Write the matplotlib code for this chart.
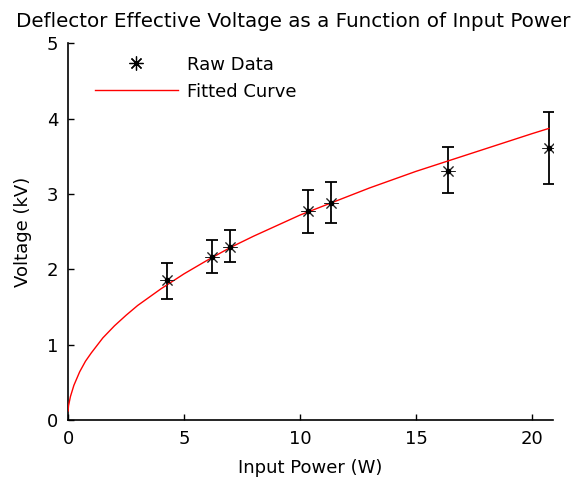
import matplotlib
matplotlib.use("Agg")
import matplotlib.pyplot as plt

# raw measurements (input power in W, voltage in kV, error bar ends)
power = [4.28, 6.19, 6.98, 10.36, 11.34, 16.37, 20.73]
voltage = [1.86, 2.17, 2.30, 2.77, 2.88, 3.31, 3.61]
err_top = [2.08, 2.39, 2.52, 3.05, 3.16, 3.62, 4.09]
err_bottom = [1.61, 1.95, 2.10, 2.48, 2.61, 3.01, 3.13]

# fitted curve
fit_power = [0.0, 0.02, 0.1, 0.25, 0.5, 0.75, 1.0, 1.5, 2.0, 2.5, 3.0, 3.5, 4.0, 5.0, 6.0, 7.0,
             8.0, 9.0, 10.0, 11.0, 12.0, 13.0, 14.0, 15.0, 16.0, 17.0, 18.0, 19.0, 20.0, 20.73]
fit_voltage = [0.12, 0.19, 0.31, 0.46, 0.64, 0.78, 0.89, 1.09, 1.25, 1.39, 1.52, 1.63, 1.74, 1.94, 2.12, 2.29,
               2.44, 2.58, 2.72, 2.84, 2.96, 3.08, 3.19, 3.30, 3.40, 3.50, 3.60, 3.70, 3.80, 3.87]

plt.rcParams['font.family'] = ['DejaVu Sans']

fig = plt.figure(figsize=(5.77, 4.87), dpi=100)
ax = fig.add_axes([0.118, 0.1376, 0.840, 0.7735])

lower = [v - b for v, b in zip(voltage, err_bottom)]
upper = [t - v for v, t in zip(voltage, err_top)]
ax.errorbar(power, voltage, yerr=[lower, upper], fmt='none', ecolor='black',
            elinewidth=1.3, capsize=4, capthick=1.3, zorder=2)
ax.plot(fit_power, fit_voltage, color='red', linewidth=1.0, zorder=3)
ax.plot(power, voltage, linestyle='none', marker=(8, 2, 0), markersize=10,
        markeredgecolor='#222222', markeredgewidth=0.7, zorder=4)
ax.plot(power, voltage, linestyle='none', marker='o', markersize=3,
        color='black', zorder=5)

# legend handles
h_raw, = ax.plot([], [], linestyle='none', marker=(8, 2, 0), markersize=10,
                 markeredgecolor='black', markeredgewidth=0.9, label='Raw Data')
h_fit, = ax.plot([], [], color='red', linewidth=1.0, label='Fitted Curve')
ax.legend(handles=[h_raw, h_fit], loc='upper left', frameon=False, fontsize=13,
          handlelength=4.6, handletextpad=0.5, labelspacing=0.5,
          bbox_to_anchor=(0.021, 1.01))

ax.set_xlim(0, 20.9)
ax.set_ylim(0, 5)
ax.set_xticks([0, 5, 10, 15, 20])
ax.set_yticks([0, 1, 2, 3, 4, 5])
ax.spines['top'].set_visible(False)
ax.spines['right'].set_visible(False)
ax.spines['left'].set_linewidth(1.2)
ax.spines['bottom'].set_linewidth(1.2)
ax.tick_params(direction='in', length=4, width=1.0, labelsize=13, pad=7)

ax.set_xlabel('Input Power (W)', fontsize=13, labelpad=8)
ax.set_ylabel('Voltage (kV)', fontsize=13, labelpad=11)
ax.set_title('Deflector Effective Voltage as a Function of Input Power', fontsize=14.3,
             pad=12, x=0.464)

fig.savefig('out.png', dpi=100)
